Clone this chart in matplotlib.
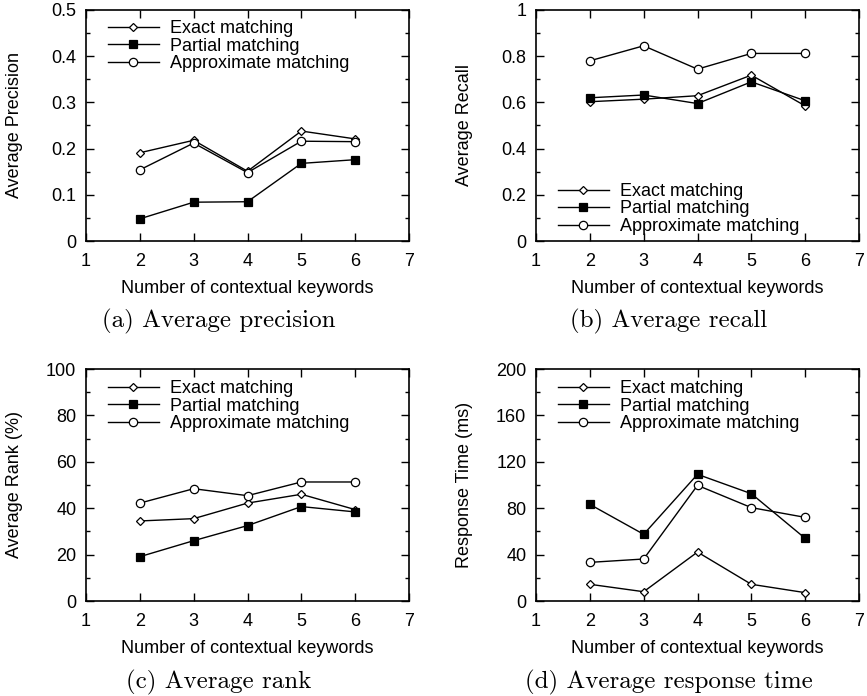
import matplotlib
matplotlib.use("Agg")
import matplotlib.pyplot as plt
from matplotlib.ticker import MultipleLocator

plt.rcParams['font.family'] = ['Liberation Sans', 'DejaVu Sans']

keywords = [2, 3, 4, 5, 6]
series_names = ["Exact matching", "Partial matching", "Approximate matching"]

precision_exact = [0.191, 0.218, 0.151, 0.238, 0.221]
precision_partial = [0.048, 0.084, 0.085, 0.168, 0.176]
precision_approx = [0.154, 0.212, 0.148, 0.216, 0.215]

recall_exact = [0.603, 0.614, 0.629, 0.718, 0.585]
recall_partial = [0.620, 0.632, 0.595, 0.689, 0.607]
recall_approx = [0.780, 0.845, 0.744, 0.812, 0.812]

rank_exact = [34.5, 35.5, 42.2, 46.0, 39.4]
rank_partial = [19.1, 26.0, 32.5, 40.7, 38.4]
rank_approx = [42.2, 48.4, 45.4, 51.3, 51.3]

time_exact = [14.4, 8.0, 42.2, 14.4, 7.2]
time_partial = [83.3, 57.5, 109.2, 92.5, 54.0]
time_approx = [33.3, 36.2, 99.7, 80.5, 72.1]

styles = [
    dict(marker='D', markersize=4, markerfacecolor='white', markeredgewidth=0.9),
    dict(marker='s', markersize=6, markerfacecolor='black', markeredgewidth=0.9),
    dict(marker='o', markersize=6, markerfacecolor='white', markeredgewidth=0.9),
]

FS = 13

panels = [
    # (rect, data, ylim, major, minor, ylabel, caption, legend loc, anchor)
    ([86/867, 1 - 241/696, 323/867, 231/696],
     [precision_exact, precision_partial, precision_approx],
     (0, 0.5), 0.1, 0.05, "Average Precision", "(a) Average precision",
     'upper left', (22/323, 1 - 10/231)),
    ([536/867, 1 - 241/696, 323/867, 231/696],
     [recall_exact, recall_partial, recall_approx],
     (0, 1), 0.2, 0.1, "Average Recall", "(b) Average recall",
     'lower left', (22/323, 6/231)),
    ([86/867, 1 - 601/696, 323/867, 232/696],
     [rank_exact, rank_partial, rank_approx],
     (0, 100), 20, 10, "Average Rank (%)", "(c) Average rank",
     'upper left', (22/323, 1 - 11/232)),
    ([536/867, 1 - 601/696, 323/867, 232/696],
     [time_exact, time_partial, time_approx],
     (0, 200), 40, 20, "Response Time (ms)", "(d) Average response time",
     'upper left', (22/323, 1 - 11/232)),
]

fig = plt.figure(figsize=(8.67, 6.96), dpi=100)

for rect, data, ylim, major, minor, ylabel, caption, loc, anchor in panels:
    ax = fig.add_axes(rect)
    for name, vals, st in zip(series_names, data, styles):
        ax.plot(keywords, vals, color='black', linewidth=1.0,
                markeredgecolor='black', label=name, **st)
    ax.set_xlim(1, 7)
    ax.set_ylim(*ylim)
    ax.xaxis.set_major_locator(MultipleLocator(1))
    ax.yaxis.set_major_locator(MultipleLocator(major))
    ax.yaxis.set_minor_locator(MultipleLocator(minor))
    ax.set_yticklabels(["{:g}".format(round(t, 3)) for t in ax.get_yticks()])
    ax.tick_params(which='both', direction='in', top=True, right=True,
                   labelsize=FS, width=1.0, color='black')
    ax.tick_params(which='major', length=6)
    ax.tick_params(axis='x', which='major', pad=9)
    ax.tick_params(axis='y', which='major', pad=7)
    ax.tick_params(which='minor', length=3)
    for s in ax.spines.values():
        s.set_linewidth(1.2)
    ax.set_xlabel("Number of contextual keywords", fontsize=FS)
    ax.xaxis.set_label_coords(0.5, -0.168)
    ax.set_ylabel(ylabel, fontsize=FS)
    ax.yaxis.set_label_coords(-0.195, 0.5)
    ax.legend(loc=loc, bbox_to_anchor=anchor, frameon=False, fontsize=FS,
              handlelength=2.8, handletextpad=0.65, labelspacing=0.03,
              borderaxespad=0, borderpad=0)
    # caption beneath each panel
    ax.text(0.41, -0.35, caption, transform=ax.transAxes, ha='center',
            va='center', fontsize=18, family='cmr10')

fig.savefig("out.png", dpi=100)
